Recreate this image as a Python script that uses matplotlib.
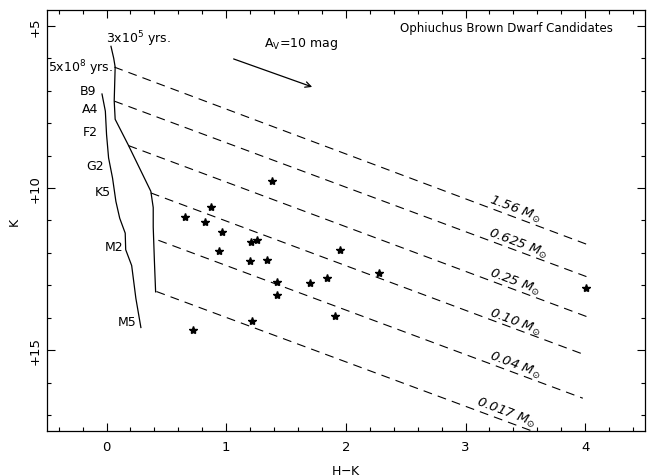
import numpy as np
import matplotlib as mpl
mpl.use('Agg')
import matplotlib.pyplot as plt
from matplotlib.ticker import MultipleLocator, FuncFormatter

# 3x10^5 yr isochrone (H-K, K)
iso_young_hk = [0.037, 0.06, 0.072, 0.064, 0.072, 0.18, 0.37, 0.39, 0.39, 0.40, 0.41]
iso_young_k = [5.63, 6.0, 6.27, 7.31, 7.88, 8.66, 10.1, 10.6, 11.2, 12.26, 13.2]

# 5x10^8 yr isochrone
iso_old_hk = [-0.038, -0.01, 0.0, 0.017, 0.05, 0.078, 0.11, 0.156, 0.16, 0.21, 0.245, 0.287]
iso_old_k = [7.1, 7.63, 8.35, 9.07, 9.69, 10.41, 10.93, 11.39, 11.9, 12.39, 13.4, 14.3]

spec_types = ['B9', 'A4', 'F2', 'G2', 'K5', 'M2', 'M5']
spec_hk = [-0.09, -0.07, -0.07, -0.02, 0.037, 0.14, 0.25]
spec_k = [7.0, 7.55, 8.27, 9.3, 10.1, 11.8, 14.1]

# mass tracks: start (H-K, K), end (H-K, K)
mass_labels = ['1.56', '0.625', '0.25', '0.10', '0.04', '0.017']
track_hk0 = [0.065, 0.065, 0.183, 0.37, 0.433, 0.417]
track_k0 = [6.27, 7.32, 8.69, 10.15, 11.61, 13.19]
track_hk1 = [4.01, 4.01, 4.01, 4.01, 3.98, 4.0]
track_k1 = [11.73, 12.73, 13.96, 15.16, 16.48, 18.1]
label_hk = [3.41, 3.44, 3.41, 3.41, 3.41, 3.34]
label_k = [10.62, 11.70, 12.88, 14.11, 15.45, 16.90]

# brown dwarf candidates
star_hk = [1.383, 0.87, 0.653, 0.823, 0.962, 1.203, 1.256, 0.942, 1.195, 1.337,
           1.948, 1.425, 1.425, 1.698, 1.839, 2.278, 1.912, 1.217, 0.723, 4.01]
star_k = [9.79, 10.57, 10.9, 11.05, 11.37, 11.65, 11.6, 11.95, 12.24, 12.21,
          11.9, 12.9, 13.29, 12.93, 12.78, 12.62, 13.94, 14.11, 14.39, 13.09]

# reddening vector
av_start = (1.04, 5.99)
av_end = (1.74, 6.91)

plt.rcParams['font.family'] = 'DejaVu Sans'
fig = plt.figure(figsize=(6.47, 4.77), dpi=100)
ax = fig.add_axes([0.0722, 0.0937, 0.9248, 0.8839])
ax.set_xlim(-0.5, 4.5)
ax.set_ylim(17.5, 4.5)

lw = 0.9
ax.plot(iso_young_hk, iso_young_k, color='k', lw=lw)
ax.plot(iso_old_hk, iso_old_k, color='k', lw=lw)

for i in range(len(mass_labels)):
    ax.plot([track_hk0[i], track_hk1[i]], [track_k0[i], track_k1[i]], color='k',
            lw=0.8, linestyle=(0, (8, 5.5)))

# angle of the tracks on screen
p0 = ax.transData.transform((track_hk0[0], track_k0[0]))
p1 = ax.transData.transform((track_hk1[0], track_k1[0]))
ang = np.degrees(np.arctan2(p1[1]-p0[1], p1[0]-p0[0]))

for i in range(len(mass_labels)):
    ax.text(label_hk[i], label_k[i], mass_labels[i]+r' M$_{\odot}$', rotation=ang,
            rotation_mode='anchor', ha='center', va='center', fontsize=9.5,
            style='italic')

ax.plot(star_hk, star_k, linestyle='', marker='*', color='k', markersize=6)

for s, x, y in zip(spec_types, spec_hk, spec_k):
    ax.text(x, y, s, ha='right', va='center', fontsize=9)

ax.text(-0.005, 5.37, r'3x10$^5$ yrs.', ha='left', va='center', fontsize=9)
ax.text(-0.49, 6.27, r'5x10$^8$ yrs.', ha='left', va='center', fontsize=9)
ax.text(3.34, 5.06, 'Ophiuchus Brown Dwarf Candidates', ha='center', va='center', fontsize=8.5)
ax.text(1.314, 5.52, r'A$_\mathrm{V}$=10 mag', ha='left', va='center', fontsize=9)
ax.annotate('', xy=av_end, xytext=av_start,
            arrowprops=dict(arrowstyle='->', color='k', lw=0.9, mutation_scale=10))

ax.set_xlabel('H$-$K', fontsize=9, labelpad=8)
ax.set_ylabel('K', fontsize=9, labelpad=6)

ax.xaxis.set_major_locator(MultipleLocator(1))
ax.xaxis.set_minor_locator(MultipleLocator(0.2))
ax.yaxis.set_major_locator(MultipleLocator(5))
ax.yaxis.set_minor_locator(MultipleLocator(1))
ax.yaxis.set_major_formatter(FuncFormatter(lambda v, p: '+%d' % v))
ax.tick_params(which='both', direction='in', top=True, right=True, labelsize=9.5)
ax.tick_params(which='major', length=6, width=0.8)
ax.tick_params(which='minor', length=3, width=0.8)
ax.tick_params(axis='x', pad=6)
for lab in ax.get_yticklabels():
    lab.set_rotation(90)
    lab.set_va('center')
for sp in ax.spines.values():
    sp.set_linewidth(0.9)

fig.savefig('out.png', dpi=100)
